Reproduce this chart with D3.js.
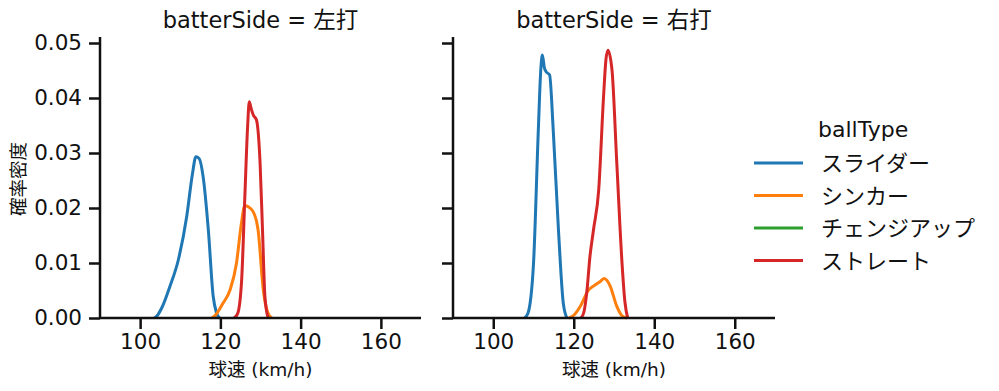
<!DOCTYPE html>
<html>
<head>
<meta charset="utf-8">
<script src="https://cdn.jsdelivr.net/npm/d3@7"></script>
<style>
  body { margin: 0; background: #fff; }
  text { font-family: "DejaVu Sans", "Noto Sans CJK JP", sans-serif; fill: #111; }
</style>
</head>
<body>
<svg id="chart" width="999" height="391" viewBox="0 0 999 391"></svg>
<script>
// ball types and colours (tab10)
const ballTypes = ["スライダー", "シンカー", "チェンジアップ", "ストレート"];
const typeColors = ["#1f77b4", "#ff7f0e", "#2ca02c", "#d62728"];
const panels = ["左打", "右打"];
const xTicks = [100, 120, 140, 160];
const yTicks = [0, 0.01, 0.02, 0.03, 0.04, 0.05];

// KDE curves: [speed, density]
const leftSlider = [[103.5,0],[104.1,0.0003],[105.5,0.002],[107.4,0.0057],[109.5,0.0105],[111.6,0.0184],[113.0,0.026],[113.9,0.0293],[114.7,0.029],[115.7,0.0257],[117.0,0.016],[118.2,0.004],[119.0,0.001],[119.8,0]];
const leftSinker = [[117.8,0],[118.6,0.0004],[120.5,0.0025],[122.4,0.0051],[124.0,0.0099],[125.2,0.017],[126.1,0.0204],[127.0,0.0202],[128.2,0.0193],[129.4,0.016],[130.7,0.0051],[131.8,0.001],[132.8,0]];
const leftStraight = [[123.4,0],[124.3,0.0008],[125.3,0.0069],[126.1,0.0221],[126.8,0.035],[127.2,0.0393],[127.7,0.038],[128.2,0.0369],[129.0,0.036],[129.9,0.0281],[130.5,0.016],[131.1,0.0039],[131.9,0]];
const rightSlider = [[107.8,0],[108.6,0.0008],[110.0,0.0099],[111.2,0.0342],[111.8,0.045],[112.2,0.0478],[112.7,0.0455],[113.1,0.0448],[114.0,0.0442],[114.9,0.0342],[116.2,0.016],[117.4,0.0027],[118.3,0]];
const rightSinker = [[118.8,0],[120.0,0.0005],[121.6,0.0021],[123.7,0.0051],[125.3,0.006],[126.5,0.0066],[127.6,0.0072],[128.3,0.0068],[129.1,0.0057],[130.7,0.0021],[132.0,0.0004],[133.2,0]];
const rightStraight = [[121.8,0],[122.5,0.001],[123.3,0.0051],[124.0,0.011],[124.9,0.016],[126.2,0.0233],[127.4,0.0402],[128.0,0.047],[128.5,0.0487],[129.5,0.0451],[130.7,0.0281],[132.0,0.0099],[132.7,0.003],[133.4,0]];

const curves = [
  [leftSlider, leftSinker, [], leftStraight],
  [rightSlider, rightSinker, [], rightStraight]
];

const svg = d3.select("#chart");
const panelX = [[100, 421], [453, 775]];
const plotTop = 43, plotBottom = 318;

const y = d3.scaleLinear().domain([0, 0.05]).range([plotBottom, plotTop]);

panels.forEach((side, i) => {
  const x = d3.scaleLinear().domain([90, 170]).range(panelX[i]);
  const g = svg.append("g");

  // lines
  const line = d3.line()
    .x(d => x(d[0]))
    .y(d => y(d[1]))
    .curve(d3.curveMonotoneX);
  curves[i].forEach((pts, k) => {
    if (!pts.length) return;
    g.append("path")
      .attr("d", line(pts))
      .attr("fill", "none")
      .attr("stroke", typeColors[k])
      .attr("stroke-width", 3)
      .attr("stroke-linejoin", "round");
  });

  // x axis
  const xAxis = g.append("g")
    .attr("transform", `translate(0,${plotBottom})`)
    .call(d3.axisBottom(x).tickValues(xTicks).tickSize(11).tickPadding(5));
  xAxis.select(".domain").attr("stroke", "#111").attr("stroke-width", 2.5)
    .attr("d", `M${panelX[i][0]},0H${panelX[i][1]}`);
  xAxis.selectAll(".tick line").attr("stroke", "#111").attr("stroke-width", 2.5);
  xAxis.selectAll(".tick text").attr("font-size", 21.5).style("fill", "#111")
    .style("font-family", "DejaVu Sans");

  // y axis
  const yAxis = g.append("g")
    .attr("transform", `translate(${panelX[i][0]},0)`)
    .call(d3.axisLeft(y).tickValues(yTicks).tickSize(11).tickPadding(7)
      .tickFormat(i === 0 ? d3.format(".2f") : ""));
  yAxis.select(".domain").attr("stroke", "#111").attr("stroke-width", 2.5)
    .attr("d", `M0,${plotBottom}V${plotTop - 6}`);
  yAxis.selectAll(".tick line").attr("stroke", "#111").attr("stroke-width", 2.5);
  yAxis.selectAll(".tick text").attr("font-size", 21.5).style("fill", "#111")
    .style("font-family", "DejaVu Sans");

  const cx = (panelX[i][0] + panelX[i][1]) / 2;
  g.append("text")
    .attr("x", cx).attr("y", 28)
    .attr("text-anchor", "middle")
    .attr("font-size", 22.5)
    .text(`batterSide = ${side}`);

  g.append("text")
    .attr("x", cx).attr("y", 376)
    .attr("text-anchor", "middle")
    .attr("font-size", 18.5)
    .text("球速 (km/h)");
});

// y label
svg.append("text")
  .attr("transform", "translate(25,179) rotate(-90)")
  .attr("text-anchor", "middle")
  .attr("font-size", 18.5)
  .text("確率密度");

// legend
const legend = svg.append("g");
legend.append("text")
  .attr("x", 818).attr("y", 137)
  .attr("font-size", 22)
  .text("ballType");
ballTypes.forEach((t, k) => {
  const ly = 163 + k * 32.5;
  legend.append("line")
    .attr("x1", 754).attr("x2", 803)
    .attr("y1", ly).attr("y2", ly)
    .attr("stroke", typeColors[k])
    .attr("stroke-width", 3);
  legend.append("text")
    .attr("x", 821).attr("y", ly + 8)
    .attr("font-size", 22)
    .text(t);
});
</script>
</body>
</html>
